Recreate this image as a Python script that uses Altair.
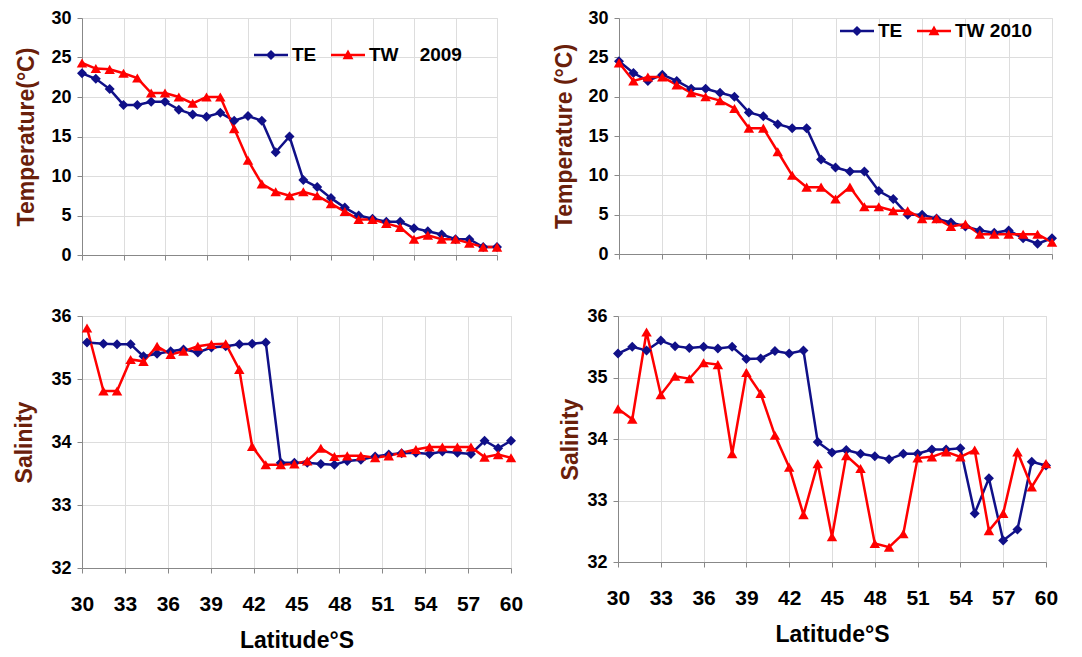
import altair as alt
import pandas as pd

# ---------------- data ----------------
lat_int = list(range(30, 61))

te_temp_2009 = [23, 22.3, 21, 19, 19, 19.4, 19.4, 18.4, 17.8, 17.5, 18, 17, 17.6, 17, 13, 15,
                9.5, 8.6, 7.2, 6, 5, 4.6, 4.2, 4.2, 3.4, 3, 2.6, 2, 2, 1, 1]
tw_temp_2009 = [24.3, 23.6, 23.5, 23, 22.4, 20.5, 20.5, 20, 19.2, 20, 20, 16, 12, 9, 8, 7.5,
                8, 7.5, 6.5, 5.5, 4.5, 4.5, 4, 3.5, 2, 2.5, 2, 2, 1.5, 1, 1]

te_temp_2010 = [24.5, 23, 22, 22.8, 22, 21, 21, 20.5, 20, 18, 17.5, 16.5, 16, 16, 12, 11,
                10.5, 10.5, 8, 7, 5, 5, 4.5, 4, 3.5, 3, 2.7, 3, 2, 1.3, 2]
tw_temp_2010 = [24.3, 22, 22.5, 22.5, 21.5, 20.5, 20, 19.5, 18.5, 16, 16, 13, 10, 8.5, 8.5, 7,
                8.5, 6, 6, 5.5, 5.5, 4.5, 4.5, 3.5, 3.8, 2.5, 2.5, 2.5, 2.5, 2.5, 1.5]

lat_sal_2009 = [30.35, 31.5, 32.45, 33.4, 34.3, 35.25, 36.2, 37.1, 38.1, 39.05, 40.05, 41.0,
                41.9, 42.85, 43.9, 44.85, 45.75, 46.7, 47.65, 48.55, 49.5, 50.5, 51.45, 52.35,
                53.35, 54.3, 55.2, 56.25, 57.2, 58.15, 59.1, 60.0]
te_sal_2009 = [35.58, 35.56, 35.55, 35.55, 35.36, 35.4, 35.44, 35.47, 35.42, 35.5, 35.52, 35.55,
               35.56, 35.58, 33.67, 33.67, 33.67, 33.65, 33.64, 33.7, 33.72, 33.77, 33.8, 33.82,
               33.83, 33.81, 33.85, 33.83, 33.81, 34.02, 33.9, 34.02]
tw_sal_2009 = [35.81, 34.81, 34.81, 35.31, 35.28, 35.52, 35.39, 35.44, 35.52, 35.55, 35.56, 35.15,
               33.93, 33.64, 33.64, 33.65, 33.7, 33.9, 33.77, 33.78, 33.78, 33.75, 33.78, 33.83,
               33.88, 33.92, 33.92, 33.92, 33.92, 33.76, 33.8, 33.75]

te_sal_2010 = [35.39, 35.5, 35.44, 35.6, 35.51, 35.48, 35.5, 35.47, 35.5, 35.3, 35.31, 35.43,
               35.39, 35.44, 33.95, 33.78, 33.82, 33.76, 33.72, 33.67, 33.76, 33.76, 33.83, 33.83,
               33.85, 32.79, 33.36, 32.35, 32.53, 33.63, 33.57]
tw_sal_2010 = [34.49, 34.32, 35.74, 34.72, 35.02, 34.98, 35.24, 35.21, 33.76, 35.08, 34.74, 34.06,
               33.54, 32.77, 33.6, 32.41, 33.73, 33.52, 32.3, 32.24, 32.46, 33.69, 33.71, 33.79,
               33.71, 33.82, 32.51, 32.79, 33.79, 33.22, 33.6]

series_names = ["TE", "TW"]
series_colors = ["#101088", "#ff0000"]
x_ticks = list(range(30, 61, 3))
temp_ticks = [0, 5, 10, 15, 20, 25, 30]
sal_ticks = [32, 33, 34, 35, 36]

FONT = "Liberation Sans, Arial, sans-serif"
TITLE_COLOR = "#6a200a"

# legend glyphs: a short line with the series marker on it (filled paths)
TE_PATH = "M-1,-0.075H1V0.075H-1Z M0,-0.3L0.3,0L0,0.3L-0.3,0Z"
TW_PATH = "M-1,-0.075H1V0.075H-1Z M0,-0.32L0.32,0.25L-0.32,0.25Z"


def panel(lats, te, tw, ydom, yticks, ytitle, w, h, bottom, ytitle_pad,
          legend_label_expr=None, legend_xy=None):
    df = pd.DataFrame({
        "lat": list(lats) + list(lats),
        "val": list(te) + list(tw),
        "series": ["TE"] * len(te) + ["TW"] * len(tw),
    })
    x = alt.X("lat:Q",
              scale=alt.Scale(domain=[30, 60], nice=False, zero=False),
              axis=alt.Axis(values=x_ticks, labels=bottom, labelFlush=False,
                            title="Latitude°S" if bottom else None,
                            labelFont=FONT, labelFontSize=21, labelFontWeight="bold",
                            labelPadding=20, titleFont=FONT, titleFontSize=23,
                            titleFontWeight="bold", titlePadding=15, titleColor="black"))
    y = alt.Y("val:Q",
              scale=alt.Scale(domain=ydom, nice=False, zero=False),
              axis=alt.Axis(values=yticks, title=ytitle, labelFont=FONT, labelFontSize=18,
                            labelFontWeight="bold", labelPadding=6, labelFlush=False,
                            titleFont=FONT, titleFontSize=23, titleFontWeight="bold",
                            titleColor=TITLE_COLOR, titlePadding=ytitle_pad))
    cscale = alt.Scale(domain=series_names, range=series_colors)
    if legend_xy is not None:
        leg = alt.Legend(
            orient="none", legendX=legend_xy[0], legendY=legend_xy[1],
            direction="horizontal", title=None, symbolSize=1156,
            symbolStrokeWidth=0, columnPadding=14, labelOffset=4,
            labelFont=FONT, labelFontSize=19, labelFontWeight="bold",
            labelColor="black", labelExpr=legend_label_expr, symbolOpacity=1,
        )
    else:
        leg = None
    color = alt.Color("series:N", scale=cscale, legend=leg)
    layers = []
    if legend_xy is not None:
        # legend carrier: no rows, only supplies the line+marker legend glyphs
        key = alt.Chart(df).transform_filter("false").mark_point(
            filled=True, opacity=1).encode(
            x=x, y=y, color=color,
            shape=alt.Shape("series:N",
                            scale=alt.Scale(domain=series_names, range=[TE_PATH, TW_PATH]),
                            legend=leg))
        layers.append(key)
    line = alt.Chart(df).mark_line(strokeWidth=2.5).encode(x=x, y=y, color=color)
    te_pts = alt.Chart(df).transform_filter("datum.series === 'TE'").mark_point(
        filled=True, opacity=1, size=100, shape="diamond").encode(x=x, y=y, color=color)
    tw_pts = alt.Chart(df).transform_filter("datum.series === 'TW'").mark_point(
        filled=True, opacity=1, size=110, shape="triangle-up").encode(x=x, y=y, color=color)
    layers += [line, te_pts, tw_pts]
    return alt.layer(*layers).properties(width=w, height=h)


nb = "\u00a0"
tl = panel(lat_int, te_temp_2009, tw_temp_2009, [0, 30], temp_ticks, "Temperature(°C)",
           415, 237, False, 12,
           legend_label_expr=f"datum.label === 'TW' ? 'TW{nb*4}2009' : datum.label",
           legend_xy=[172, 20])
tr = panel(lat_int, te_temp_2010, tw_temp_2010, [0, 30], temp_ticks, "Temperature (°C)",
           433, 236, False, 11,
           legend_label_expr=f"datum.label === 'TW' ? 'TW{nb}2010' : datum.label",
           legend_xy=[221, -4])
bl = panel(lat_sal_2009, te_sal_2009, tw_sal_2009, [32, 36], sal_ticks, "Salinity",
           429, 252, True, 14)
br = panel(lat_int, te_sal_2010, tw_sal_2010, [32, 36], sal_ticks, "Salinity",
           428, 246, True, 4)

top = alt.hconcat(tl, tr, spacing=50).resolve_scale(color="independent", shape="independent")
bottom = alt.hconcat(bl, br, spacing=35).resolve_scale(color="independent", shape="independent")

chart = alt.vconcat(top, bottom, spacing=41).resolve_scale(
    color="independent", shape="independent"
).properties(
    padding={"left": 13, "top": 8, "right": 0, "bottom": 0}
).configure_view(stroke=None).configure_axis(
    grid=False, domainColor="black", domainWidth=1.5, tickColor="black",
    tickWidth=1.5, tickSize=7, labelColor="black"
).configure(background="white")

chart.save("out.html", embed_options={"renderer": "svg", "actions": False})
